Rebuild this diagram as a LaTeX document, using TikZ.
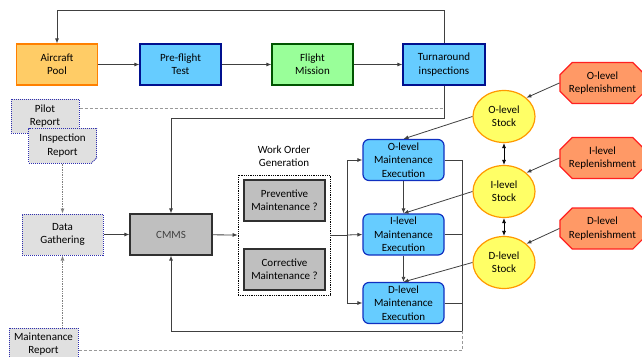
\documentclass[tikz,border=0pt]{standalone}
\usepackage{fontspec}
\setmainfont{Carlito}
\usetikzlibrary{shapes.misc,shapes.geometric,arrows.meta,calc}
\definecolor{poolF}{HTML}{FFCC66}
\definecolor{poolB}{HTML}{FF8000}
\definecolor{blueF}{HTML}{66CCFF}
\definecolor{blueB}{HTML}{00108F}
\definecolor{execB}{HTML}{1030C0}
\definecolor{greenF}{HTML}{99FF99}
\definecolor{greenB}{HTML}{005500}
\definecolor{stockF}{HTML}{FFFF66}
\definecolor{stockB}{HTML}{FF9900}
\definecolor{repF}{HTML}{FF9966}
\definecolor{repB}{HTML}{FF2020}
\definecolor{grayF}{HTML}{BFBFBF}
\definecolor{grayB}{HTML}{303030}
\definecolor{repoF}{HTML}{E0E0E0}
\definecolor{repoB}{HTML}{3030B0}
\definecolor{lineC}{HTML}{404040}
\begin{document}
\begin{tikzpicture}[x=1pt,y=-1pt,
  font=\fontsize{11}{13.4}\selectfont,
  box/.style={draw, align=center, inner sep=1pt, minimum width=81, minimum height=41, line width=1.2pt},
  poolbox/.style={box, fill=poolF, draw=poolB},
  bluebox/.style={box, fill=blueF, draw=blueB},
  greenbox/.style={box, fill=greenF, draw=greenB},
  graybox/.style={box, fill=grayF, draw=grayB},
  execbox/.style={box, fill=blueF, draw=execB, rounded corners=6pt},
  repobox/.style={draw=repoB, fill=repoF, densely dotted, line width=1pt, align=center, inner sep=1pt},
  stockell/.style={ellipse, draw=stockB, fill=stockF, line width=1.2pt, minimum width=62, minimum height=52, inner sep=0pt, align=center},
  repl/.style={chamfered rectangle, chamfered rectangle xsep=9pt, draw=repB, fill=repF, line width=1.2pt, minimum width=79, minimum height=41, inner sep=0pt, align=center},
  conn/.style={draw=lineC, line width=0.8pt, -{Latex[length=5pt,width=4pt]}},
  plain/.style={draw=lineC, line width=0.8pt},
  dconn/.style={draw=gray, line width=0.7pt, densely dotted, -{Latex[length=5pt,width=4pt]}},
  dashline/.style={draw=gray!80, line width=0.7pt, densely dashed},
  biconn/.style={draw=black, line width=0.8pt, {Latex[length=5pt,width=4pt]}-{Latex[length=5pt,width=4pt]}}
]
\useasboundingbox (0,0) rectangle (642,356);

% top row
\node[poolbox] (pool) at (57,64.5) {Aircraft\\Pool};
\node[bluebox] (pre) at (180.5,64.5) {Pre-flight\\Test};
\node[greenbox] (flight) at (312.5,64.5) {Flight\\Mission};
\node[bluebox, minimum width=82] (turn) at (444,64.5) {Turnaround\\inspections};

% reports
\node[repobox, minimum width=68, minimum height=34] (pilot) at (45,116) {Pilot\\Report};
\node[repobox, minimum width=68, minimum height=35] (insp) at (62.5,145.5) {Inspection\\Report};
\fill[white] ($(insp.south east)+(-6,0.6)$) -- ($(insp.south east)+(0.6,0.6)$) -- ($(insp.south east)+(0.6,-6)$) -- cycle;
\draw[draw=repoB, densely dotted, line width=1pt] ($(insp.south east)+(-6,0)$) -- ($(insp.south east)+(0,-6)$);
\node[repobox, minimum width=81, minimum height=41] (dg) at (62.5,234.5) {Data\\Gathering};
\node[repobox, minimum width=69, minimum height=32, font=\fontsize{11}{12.8}\selectfont] (mr) at (43.5,344) {Maintenance\\Report};

% CMMS and work orders
\node[graybox, minimum width=82, text=black!75] (cmms) at (171,234.5) {CMMS};
\node[align=center, inner sep=0pt] (wolab) at (284,156) {Work Order\\Generation};
\node[draw=black, densely dotted, line width=0.8pt, minimum width=92, minimum height=120, inner sep=0pt] (wobox) at (284,235) {};
\node[graybox] (prev) at (284.5,200.5) {Preventive\\Maintenance ?};
\node[graybox] (corr) at (284.5,269.5) {Corrective\\Maintenance ?};

% executions
\node[execbox] (ox) at (403.5,160) {O-level\\Maintenance\\Execution};
\node[execbox] (ix) at (403.5,234.5) {I-level\\Maintenance\\Execution};
\node[execbox] (dx) at (403.5,303) {D-level\\Maintenance\\Execution};

% stocks
\node[stockell] (os) at (504,116.5) {O-level\\Stock};
\node[stockell] (is) at (504,191.5) {I-level\\Stock};
\node[stockell] (ds) at (504,262.5) {D-level\\Stock};

% replenishment
\node[repl] (or) at (602.5,83) {O-level\\Replenishment};
\node[repl] (ir) at (602.5,158) {I-level\\Replenishment};
\node[repl] (dr) at (602.5,228.5) {D-level\\Replenishment};

% coordinates
\coordinate (ttop) at (444,10);
\coordinate (t1) at (444,118);
\coordinate (t2) at (444,108);
\coordinate (jn) at (347,235);
\coordinate (r1) at (462,160);
\coordinate (r2) at (462,234.5);
\coordinate (r3) at (462,303);
\coordinate (rb) at (462,331);
\coordinate (b2) at (462,350);

% top row connectors
\draw[conn] (pool) -- (pre);
\draw[conn] (pre) -- (flight);
\draw[conn] (flight) -- (turn);
\draw[conn] (turn.north) -- (ttop) -| (pool.north);
\draw[conn] (turn.south) -- (t1) -| (cmms.north);
\draw[dashline] (pilot.east |- t2) -- (t2);

% data gathering
\draw[dconn] (insp.south) -- (dg.north);
\draw[dconn] (mr.north -| dg.south) -- (dg.south);
\draw[conn] (dg) -- (cmms);
\draw[conn] (cmms) -- (wobox.west);

% work orders to executions
\draw[plain] (wobox.east) -- (jn);
\draw[conn] (jn) |- (ox.west);
\draw[conn] (jn) -- (ix.west);
\draw[conn] (jn) |- (dx.west);
\draw[conn] (ox) -- (ix);
\draw[conn] (ix) -- (dx);

% feedback to CMMS
\draw[plain] (ox.east) -- (r1) -- (rb);
\draw[plain] (ix.east) -- (r2);
\draw[plain] (dx.east) -- (r3);
\draw[conn] (rb) -| (cmms.south);
\draw[dashline] (mr.east |- b2) -- (b2) -- (rb);

% stocks
\draw[biconn] (os.south) -- (is.north);
\draw[biconn] (is.south) -- (ds.north);
\draw[conn] (os.west) -- (ox.north);
\draw[conn] (is.west) -- (ix.north);
\draw[conn] (ds.west) -- (dx.north);
\draw[conn] (or.west) -- (os.40);
\draw[conn] (ir.west) -- (is.40);
\draw[conn] (dr.west) -- (ds.40);
\end{tikzpicture}
\end{document}
